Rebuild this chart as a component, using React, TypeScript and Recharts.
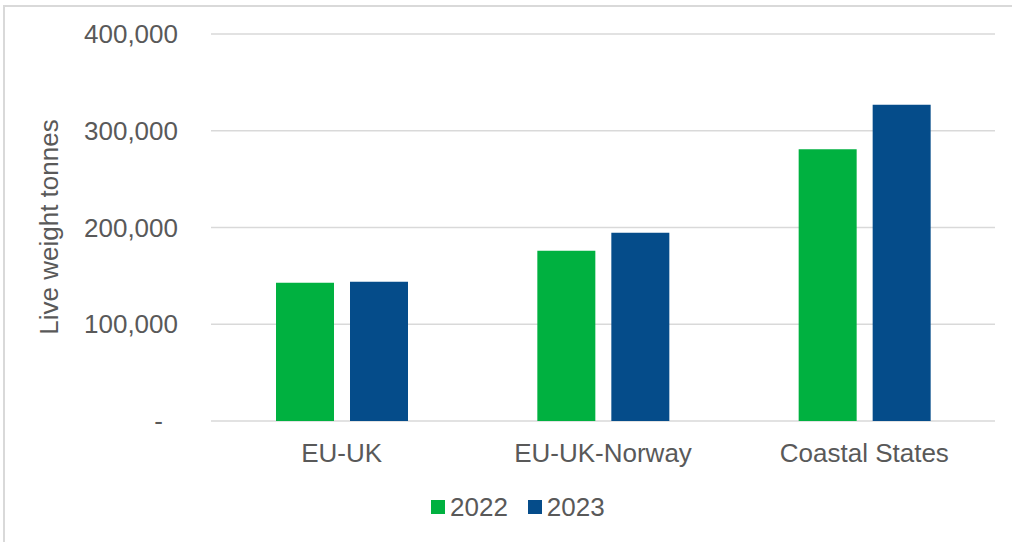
import React from 'react';
import { BarChart, Bar, XAxis, YAxis, CartesianGrid, Legend } from 'recharts';

const categories = ['EU-UK', 'EU-UK-Norway', 'Coastal States'];
const values2022 = [143000, 176000, 281000];
const values2023 = [144000, 194500, 327000];
const yTicks = [0, 100000, 200000, 300000, 400000];
const seriesNames = ['2022', '2023'];

const GREEN = '#00B140';
const BLUE = '#054C8A';
const TEXT = '#595959';
const GRID = '#D9D9D9';
const FONT = '"Liberation Sans", Arial, sans-serif';

const chartData = categories.map((name, i) => ({
  name,
  y2022: values2022[i],
  y2023: values2023[i],
}));

// Excel-style accounting number: zero shows as a dash
const YTick = (props: any) => {
  const { y, payload } = props;
  const v = payload.value as number;
  const label = v === 0 ? '-' : v.toLocaleString('en-US');
  return (
    <text
      x={v === 0 ? 163 : 178}
      y={y}
      dy="0.355em"
      textAnchor="end"
      fill={TEXT}
      fontSize={26}
      fontFamily={FONT}
    >
      {label}
    </text>
  );
};

const XTick = (props: any) => {
  const { x, payload } = props;
  return (
    <text x={x} y={462} textAnchor="middle" fill={TEXT} fontSize={26} fontFamily={FONT}>
      {payload.value}
    </text>
  );
};

const LegendContent = () => (
  <div
    style={{
      display: 'flex',
      alignItems: 'center',
      height: 30,
      paddingLeft: 431,
      fontFamily: FONT,
      fontSize: 26,
      color: TEXT,
    }}
  >
    {seriesNames.map((s, i) => (
      <div key={s} style={{ display: 'flex', alignItems: 'center', marginRight: 20 }}>
        <span
          style={{
            display: 'inline-block',
            width: 14,
            height: 14,
            background: i === 0 ? GREEN : BLUE,
            marginRight: 5,
          }}
        />
        <span>{s}</span>
      </div>
    ))}
  </div>
);

const YLabel = () => (
  <text
    x={58}
    y={227}
    transform="rotate(-90 58 227)"
    textAnchor="middle"
    fill={TEXT}
    fontSize={26}
    fontFamily={FONT}
  >
    Live weight tonnes
  </text>
);

export default function App() {
  return (
    <div
      style={{
        position: 'absolute',
        left: 0,
        top: 0,
        width: 1012,
        height: 542,
        overflow: 'hidden',
        background: '#fff',
      }}
    >
      {/* outer frame, cropped on the right and bottom */}
      <div
        style={{
          position: 'absolute',
          left: 3,
          top: 5,
          width: 1100,
          height: 600,
          border: `2px solid ${GRID}`,
          boxSizing: 'border-box',
        }}
      />
      <div style={{ position: 'absolute', left: 0, top: 0 }}>
        <BarChart
          width={1012}
          height={542}
          data={chartData}
          margin={{ top: 34, right: 17, bottom: 20, left: 0 }}
          barSize={58}
          barGap={16}
        >
          <CartesianGrid vertical={false} stroke={GRID} strokeWidth={1.5} />
          <XAxis
            dataKey="name"
            axisLine={false}
            tickLine={false}
            height={71}
            tick={<XTick />}
            interval={0}
          />
          <YAxis
            width={211}
            domain={[0, 400000]}
            ticks={yTicks}
            axisLine={false}
            tickLine={false}
            tick={<YTick />}
            label={<YLabel />}
          />
          <Legend
            verticalAlign="bottom"
            height={30}
            wrapperStyle={{ left: 0, width: 1012 }}
            content={<LegendContent />}
          />
          <Bar dataKey="y2022" name="2022" fill={GREEN} isAnimationActive={false} />
          <Bar dataKey="y2023" name="2023" fill={BLUE} isAnimationActive={false} />
        </BarChart>
      </div>
    </div>
  );
}
